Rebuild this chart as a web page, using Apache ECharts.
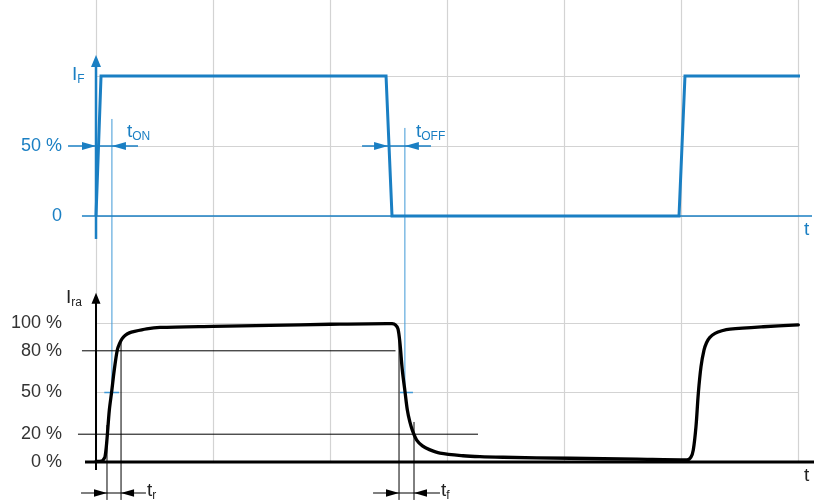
<!DOCTYPE html>
<html>
<head>
<meta charset="utf-8">
<script src="https://cdn.jsdelivr.net/npm/echarts@6/dist/echarts.min.js"></script>
<style>
  html, body { margin: 0; padding: 0; background: #fff; }
  #chart { width: 814px; height: 501px; }
</style>
</head>
<body>
<div id="chart"></div>
<script>
// Time is measured in grid divisions (0..6); levels in percent.

// Forward current I_F (drive pulse)
const ifTime  = [0, 0.043, 2.479, 2.530, 4.983, 5.034, 6.017];
const ifLevel = [0, 100, 100, 0, 0, 100, 100];

// Receiver current I_ra (measured response)
const iraTime = [0, 0.049, 0.064, 0.077, 0.091, 0.114, 0.134, 0.156, 0.182, 0.200, 0.222, 0.248, 0.285, 0.330,
                 0.433, 0.547, 1.0, 1.487, 2.0, 2.487, 2.530, 2.560, 2.581, 2.598, 2.618, 2.641, 2.661,
                 2.682, 2.705, 2.741, 2.790, 2.850, 2.940, 3.137, 3.282, 3.479, 4.051, 4.624, 5.051, 5.085,
                 5.105, 5.128, 5.148, 5.171, 5.197, 5.218, 5.245, 5.291, 5.350, 5.419, 5.703, 6.003];
const iraLevel = [0.4, 0.7, 1.8, 3.8, 13.5, 37.4, 50.6, 66.2, 80.6, 85.0, 88.6, 91.0, 92.9, 94.0,
                  95.8, 96.8, 97.6, 98.3, 99.1, 99.6, 99.5, 98.6, 95.8, 85.4, 66.2, 50.6, 37.4,
                  29.0, 22.6, 15.8, 11.6, 8.9, 6.4, 4.5, 3.8, 3.4, 2.7, 2.0, 1.5, 3.5,
                  8.6, 25.4, 49.4, 68.6, 80.6, 85.8, 89.5, 92.5, 94.4, 95.6, 97.3, 98.6];

// Axis ticks
const timeMin = 0, timeMax = 6, timeStep = 1;
const ifTickValues = [0, 50, 100];
const ifTickLabels = ['0', '50 %', ''];
const iraTickValues = [0, 20, 50, 80, 100];
const iraTickLabels = ['0 %', '20 %', '50 %', '80 %', '100 %'];

// Rise/fall threshold lines: level, start time, end time
const thresholdLevels = [80, 20];
const thresholdStart  = [-0.12, -0.154];
const thresholdEnd    = [2.56, 3.265];

// Switching delays on I_F at 50 %: [tail, head, head, tail, level]
const delayMarks = [[-0.239, 0, 0.136, 0.359, 50], [2.274, 2.496, 2.64, 2.863, 50]];
// Connectors from the delay mark down to 50 % of I_ra: [time, top level on I_F]
const delayConnectors = [[0.136, 69.3], [2.64, 62.9]];
// Short ticks where the connectors meet 50 % of I_ra: [from, to]
const connectorTicks = [[0.071, 0.197], [2.598, 2.709]];

// Rise / fall time marks on I_ra: [tail, head, head, tail, level]
const edgeMarks = [[-0.128, 0.094, 0.214, 0.427, -22.3], [2.368, 2.590, 2.718, 2.940, -22.3]];
// Vertical limits of t_r and t_f: [time, top level, bottom level]
const edgeVerticals = [[0.094, 26.6, -27.3], [0.214, 87.8, -27.3], [2.590, 87.8, -27.3], [2.718, 28.8, -27.3]];

// Axis extents drawn as arrows: [time0, level0, time1, level1]
const ifAxes  = { y: [0, -16.4, 0, 115], x: [-0.12, 0, 6.12, 0] };
const iraAxes = { y: [0, -5.8, 0, 121.8], x: [-0.094, 0, 6.2, 0] };

// Text annotations
const ifTextPos  = [[-0.205, 100.7], [0.265, 60], [2.735, 60], [6.051, -10]];
const ifText     = ['{m|I}{s|F}', '{m|t}{s|ON}', '{m|t}{s|OFF}', '{m|t}'];
const iraTextPos = [[-0.256, 118], [6.051, -10.1], [0.436, -20.9], [2.949, -20.9]];
const iraText    = ['{m|I}{s|ra}', '{m|t}', '{m|t}{s|r}', '{m|t}{s|f}'];

const BLUE = '#1a7fc3';
const LIGHT_BLUE = '#3f98d6';
const GRID_GRAY = '#d3d3d3';
const INK = '#000';
const LABEL_GRAY = '#333';
const FONT = '"Liberation Sans", Arial, Helvetica, sans-serif';

const chart = echarts.init(document.getElementById('chart'), null, { renderer: 'canvas' });

const RICH = {
  m: { fontSize: 19, fontFamily: FONT, lineHeight: 22 },
  s: { fontSize: 12, fontFamily: FONT, lineHeight: 9, verticalAlign: 'bottom' }
};

function arrowHead(tip, from, len, half, color) {
  const dx = tip[0] - from[0], dy = tip[1] - from[1];
  const d = Math.hypot(dx, dy) || 1;
  const ux = dx / d, uy = dy / d;
  const bx = tip[0] - ux * len, by = tip[1] - uy * len;
  return {
    type: 'polygon',
    shape: { points: [[tip[0], tip[1]], [bx - uy * half, by + ux * half], [bx + uy * half, by - ux * half]] },
    style: { fill: color }
  };
}

function lineEl(a, b, color, width) {
  return { type: 'line', shape: { x1: a[0], y1: a[1], x2: b[0], y2: b[1] }, style: { stroke: color, lineWidth: width } };
}

// Straight segments; optional arrow head at the second point
function segmentSeries(idx, rows, color, width, arrowLen, arrowHalf) {
  return {
    type: 'custom', xAxisIndex: idx, yAxisIndex: idx, clip: false, silent: true, z: 4,
    data: rows,
    renderItem: function (params, api) {
      const a = api.coord([api.value(0), api.value(1)]);
      const b = api.coord([api.value(2), api.value(3)]);
      const children = [];
      if (arrowLen) {
        const dx = b[0] - a[0], dy = b[1] - a[1];
        const d = Math.hypot(dx, dy) || 1;
        const end = [b[0] - dx / d * arrowLen * 0.7, b[1] - dy / d * arrowLen * 0.7];
        children.push(lineEl(a, end, color, width));
        children.push(arrowHead(b, a, arrowLen, arrowHalf, color));
      } else {
        children.push(lineEl(a, b, color, width));
      }
      return { type: 'group', children: children };
    }
  };
}

// Double arrows pointing inward at an interval
function intervalSeries(idx, rows, color, width, len, half) {
  return {
    type: 'custom', xAxisIndex: idx, yAxisIndex: idx, clip: false, silent: true, z: 4,
    data: rows,
    renderItem: function (params, api) {
      const lvl = api.value(4);
      const t1 = api.coord([api.value(0), lvl]);
      const h1 = api.coord([api.value(1), lvl]);
      const h2 = api.coord([api.value(2), lvl]);
      const t2 = api.coord([api.value(3), lvl]);
      return {
        type: 'group',
        children: [
          lineEl(t1, t2, color, width),
          arrowHead(h1, t1, len, half, color),
          arrowHead(h2, t2, len, half, color)
        ]
      };
    }
  };
}

function textSeries(idx, rows, texts, color) {
  return {
    type: 'custom', xAxisIndex: idx, yAxisIndex: idx, clip: false, silent: true, z: 5,
    data: rows,
    renderItem: function (params, api) {
      const p = api.coord([api.value(0), api.value(1)]);
      return {
        type: 'text', x: p[0], y: p[1],
        style: {
          text: texts[params.dataIndex], fill: color, align: 'left', verticalAlign: 'middle',
          fontSize: 19, fontFamily: FONT, rich: RICH
        }
      };
    }
  };
}

const thresholdRows = thresholdLevels.map((lvl, i) => [thresholdStart[i], lvl, thresholdEnd[i], lvl]);
const edgeVerticalRows = edgeVerticals.map(r => [r[0], r[1], r[0], r[2]]);
const connectorTickRows = connectorTicks.map(r => [r[0], 50, r[1], 50]);

const gridLeft = 96, gridRight = 16;

const option = {
  animation: false,
  backgroundColor: '#ffffff',
  grid: [
    { left: gridLeft, right: gridRight, top: 0, bottom: 39 },     // vertical grid lines through both panels
    { left: gridLeft, right: gridRight, top: 76, bottom: 285 },    // I_F panel
    { left: gridLeft, right: gridRight, top: 323, bottom: 39 }     // I_ra panel
  ],
  xAxis: [
    {
      gridIndex: 0, type: 'value', min: timeMin, max: timeMax, interval: timeStep,
      axisLine: { show: false }, axisTick: { show: false }, axisLabel: { show: false },
      splitLine: { show: true, lineStyle: { color: GRID_GRAY, width: 1.2 } }
    },
    { gridIndex: 1, type: 'value', min: timeMin, max: timeMax, interval: timeStep, show: false },
    { gridIndex: 2, type: 'value', min: timeMin, max: timeMax, interval: timeStep, show: false }
  ],
  yAxis: [
    { gridIndex: 0, type: 'value', min: 0, max: 1, show: false },
    {
      gridIndex: 1, type: 'value', min: 0, max: 100, interval: 50,
      axisLine: { show: false }, axisTick: { show: false },
      axisLabel: {
        margin: 34, color: BLUE, fontSize: 18, fontFamily: FONT,
        formatter: function (v) { const i = ifTickValues.indexOf(v); return i >= 0 ? ifTickLabels[i] : ''; }
      },
      splitLine: { show: true, lineStyle: { color: GRID_GRAY, width: 1.2 } }
    },
    {
      gridIndex: 2, type: 'value', min: 0, max: 100, interval: 50,
      axisLine: { show: false }, axisTick: { show: false },
      axisLabel: {
        margin: 34, color: LABEL_GRAY, fontSize: 18, fontFamily: FONT,
        customValues: iraTickValues,
        formatter: function (v) { const i = iraTickValues.indexOf(v); return i >= 0 ? iraTickLabels[i] : ''; }
      },
      splitLine: { show: true, lineStyle: { color: GRID_GRAY, width: 1.2 } }
    }
  ],
  series: [
    // I_F axes
    segmentSeries(1, [ifAxes.x], BLUE, 1.5),
    segmentSeries(1, [ifAxes.y], BLUE, 2.5, 12, 5),
    // I_ra axes
    segmentSeries(2, [iraAxes.x], INK, 3),
    segmentSeries(2, [iraAxes.y], INK, 2, 11, 4.5),
    // thresholds and edge limits
    segmentSeries(2, thresholdRows, INK, 1),
    segmentSeries(2, edgeVerticalRows, INK, 1),
    // connectors between the two panels
    {
      type: 'custom', xAxisIndex: 1, yAxisIndex: 1, clip: false, silent: true, z: 3,
      data: delayConnectors,
      renderItem: function (params, api) {
        const t = api.value(0);
        const top = api.coord([t, api.value(1)]);
        let bottom = chart.convertToPixel({ gridIndex: 2 }, [t, 50]);
        if (!bottom) { bottom = api.coord([t, -126]); }
        return lineEl(top, bottom, LIGHT_BLUE, 1);
      }
    },
    segmentSeries(2, connectorTickRows, LIGHT_BLUE, 1.5),
    // delay and edge-time markers
    intervalSeries(1, delayMarks, BLUE, 1.3, 14, 4),
    intervalSeries(2, edgeMarks, INK, 1.2, 13, 3.8),
    // signals
    {
      type: 'line', xAxisIndex: 1, yAxisIndex: 1, data: ifTime.map((t, i) => [t, ifLevel[i]]),
      symbol: 'none', clip: false, z: 6,
      lineStyle: { color: BLUE, width: 3, join: 'miter' }
    },
    {
      type: 'line', xAxisIndex: 2, yAxisIndex: 2, data: iraTime.map((t, i) => [t, iraLevel[i]]),
      symbol: 'none', clip: false, z: 6, smooth: 0.3,
      lineStyle: { color: INK, width: 3.3, join: 'round', cap: 'round' }
    },
    // text
    textSeries(1, ifTextPos, ifText, BLUE),
    textSeries(2, iraTextPos, iraText, '#222')
  ]
};

chart.setOption(option);
</script>
</body>
</html>
